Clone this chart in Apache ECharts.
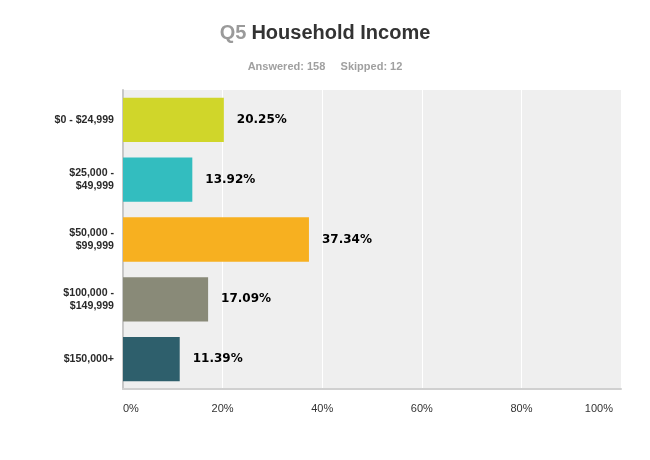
<!DOCTYPE html>
<html>
<head>
<meta charset="utf-8">
<script src="https://cdn.jsdelivr.net/npm/echarts@6/dist/echarts.min.js"></script>
<style>html,body{margin:0;padding:0;background:#fff}#c{width:650px;height:460px}</style>
</head>
<body>
<div id="c"></div>
<script>
var categories = ['$0 - $24,999', '$25,000 -\n$49,999', '$50,000 -\n$99,999', '$100,000 -\n$149,999', '$150,000+'];
var values = [20.25, 13.92, 37.34, 17.09, 11.39];
var colors = ['#D0D62A', '#33BDBF', '#F7B020', '#898A78', '#2E5F6C'];
var xTicks = [0, 20, 40, 60, 80, 100];

var chart = echarts.init(document.getElementById('c'));
chart.setOption({
  animation: false,
  backgroundColor: '#ffffff',
  title: [{
    text: '{q|Q5} {t|Household Income}',
    left: 'center', top: 18,
    textStyle: {
      rich: {
        q: {fontFamily: 'Liberation Sans, Arial', fontWeight: 'bold', fontSize: 20, color: '#9a9a9a'},
        t: {fontFamily: 'Liberation Sans, Arial', fontWeight: 'bold', fontSize: 20, color: '#333333'}
      }
    }
  }, {
    text: 'Answered: 158     Skipped: 12',
    left: 'center', top: 56,
    textStyle: {fontFamily: 'Liberation Sans, Arial', fontWeight: 'bold', fontSize: 11, color: '#a0a0a0'}
  }],
  grid: {left: 123, right: 29, top: 90, bottom: 71, show: true, backgroundColor: '#efefef', borderWidth: 0},
  xAxis: {
    type: 'value', min: 0, max: 100, interval: 20,
    axisLine: {show: true, lineStyle: {color: '#d0d0d0', width: 2}},
    axisTick: {show: false},
    splitLine: {show: true, lineStyle: {color: '#ffffff', width: 1}},
    axisLabel: {
      margin: 14,
      fontFamily: 'Liberation Sans, Arial', fontSize: 11, color: '#333333',
      alignMinLabel: 'left', alignMaxLabel: 'right',
      formatter: function (v) { return v === 100 ? '{r|100%}' : v + '%'; },
      rich: {r: {fontFamily: 'Liberation Sans, Arial', fontSize: 11, color: '#333333', padding: [0, 8, 0, 0]}}
    }
  },
  yAxis: {
    type: 'category', data: categories, inverse: true,
    axisLine: {show: true, lineStyle: {color: '#c8c8c8', width: 2}},
    axisTick: {show: false},
    splitLine: {show: false},
    axisLabel: {
      margin: 9,
      fontFamily: 'Liberation Sans, Arial', fontWeight: 'bold', fontSize: 10.6, color: '#2a2a2a',
      lineHeight: 13, align: 'right'
    }
  },
  series: [{
    type: 'bar',
    data: values.map(function (v, i) { return {value: v, itemStyle: {color: colors[i]}}; }),
    barCategoryGap: '26%',
    label: {
      show: true, position: 'right', distance: 13,
      fontFamily: 'DejaVu Sans', fontWeight: 'bold', fontSize: 12, color: '#000000',
      formatter: function (p) { return p.value.toFixed(2) + '%'; }
    }
  }]
});
</script>
</body>
</html>
